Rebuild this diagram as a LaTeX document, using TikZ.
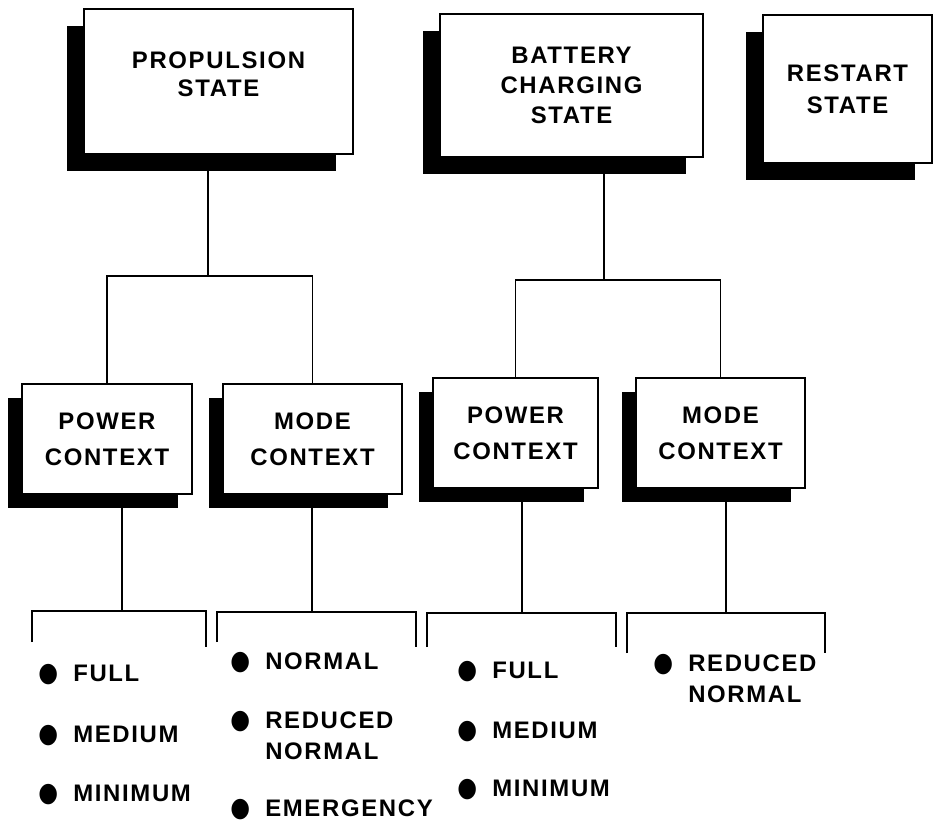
\documentclass[tikz,border=0pt]{standalone}
\usepackage{fontspec}
\setmainfont{Liberation Sans}
\newfontfamily\lblfont[LetterSpace=7]{Liberation Sans}
\newfontfamily\symfont{DejaVu Sans}
\usetikzlibrary{shadows}
\newcommand\dotmark{\makebox[0pt][r]{\smash{\scalebox{0.95}[1.12]{\symfont\fontsize{17}{17}\selectfont ●}}\hspace{0.38cm}}}

\tikzset{
  statebox/.style={draw, fill=white, line width=0.9pt, align=center,
    inner sep=0pt, drop shadow={shadow xshift=-0.425cm, shadow yshift=-0.425cm, fill=black, opacity=1}},
  ctxbox/.style={draw, fill=white, line width=0.9pt, align=center,
    inner sep=0pt, minimum height=2.75cm,
    font=\lblfont\bfseries\fontsize{17}{25.5}\selectfont,
    drop shadow={shadow xshift=-0.34cm, shadow yshift=-0.35cm, fill=black, opacity=1}},
  item/.style={anchor=north west, inner sep=0pt, align=left},
  link/.style={line width=0.8pt}
}

\begin{document}
\begin{tikzpicture}[x=0.025cm, y=-0.025cm, font=\lblfont\bfseries\fontsize{17}{21.5}\selectfont]
\useasboundingbox (0,0) rectangle (943,823);

% states
\node[statebox, minimum width=6.725cm, minimum height=3.625cm, text depth=0.36cm, font=\lblfont\bfseries\fontsize{17}{20}\selectfont] (prop) at (218.5,81.5) {PROPULSION\\STATE};
\node[statebox, minimum width=6.575cm, minimum height=3.575cm] (bat) at (571.5,85.5) {BATTERY\\CHARGING\\STATE};
\node[statebox, minimum width=4.225cm, minimum height=3.7cm, font=\lblfont\bfseries\fontsize{17}{22.5}\selectfont] (rest) at (847.5,89) {RESTART\\STATE};

% contexts
\node[ctxbox, minimum width=4.25cm] (pc1) at (107,439) {POWER\\CONTEXT};
\node[ctxbox, minimum width=4.475cm] (mc1) at (312.5,439) {MODE\\CONTEXT};
\node[ctxbox, minimum width=4.125cm] (pc2) at (515.5,433) {POWER\\CONTEXT};
\node[ctxbox, minimum width=4.225cm] (mc2) at (720.5,433) {MODE\\CONTEXT};

% tree lines
\coordinate (pj) at (208,276);
\coordinate (bj) at (604,280);
\draw[link] (prop.south -| pj) -- (pj);
\draw[link] (pc1.north) |- (pj) -| (mc1.north);
\draw[link] (bat.south -| bj) -- (bj);
\draw[link] (pc2.north) |- (bj) -| (mc2.north);

% brackets
\coordinate (b1) at (122,611);
\coordinate (b1l) at (32,642);
\coordinate (b1r) at (206,647);
\coordinate (b2) at (312,612);
\coordinate (b2l) at (217,642);
\coordinate (b2r) at (416,647);
\coordinate (b3) at (522,613);
\coordinate (b3l) at (427,647);
\coordinate (b3r) at (616,647);
\coordinate (b4) at (726,613);
\coordinate (b4l) at (627,653);
\coordinate (b4r) at (825,653);
\draw[link] (pc1.south -| b1) -- (b1);
\draw[link] (mc1.south -| b2) -- (b2);
\draw[link] (pc2.south -| b3) -- (b3);
\draw[link] (mc2.south -| b4) -- (b4);
\draw[link] (b1l) |- (b1) -| (b1r);
\draw[link] (b2l) |- (b2) -| (b2r);
\draw[link] (b3l) |- (b3) -| (b3r);
\draw[link] (b4l) |- (b4) -| (b4r);

% lists
\node[item] (full1) at (73,665) {\dotmark FULL};
\node[item] (med1) at (73,726) {\dotmark MEDIUM};
\node[item] (min1) at (73,785) {\dotmark MINIMUM};
\node[item] (norm2) at (265,653) {\dotmark NORMAL};
\node[item, font=\lblfont\bfseries\fontsize{17}{22}\selectfont] (red2) at (265,712) {\dotmark REDUCED\\NORMAL};
\node[item] (emer2) at (265,800) {\dotmark EMERGENCY};
\node[item] (full3) at (492,662) {\dotmark FULL};
\node[item] (med3) at (492,722) {\dotmark MEDIUM};
\node[item] (min3) at (492,780) {\dotmark MINIMUM};
\node[item, font=\lblfont\bfseries\fontsize{17}{22}\selectfont] (red4) at (688,655) {\dotmark REDUCED\\NORMAL};
\end{tikzpicture}
\end{document}
